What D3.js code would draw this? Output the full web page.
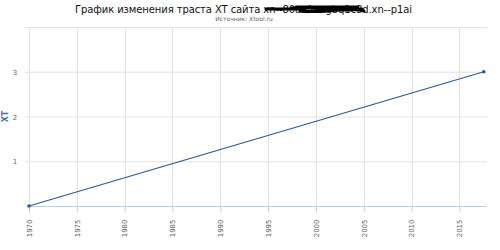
<!DOCTYPE html>
<html lang="ru">
<head>
<meta charset="utf-8">
<script src="https://cdn.jsdelivr.net/npm/d3@7"></script>
<style>
  body { margin:0; background:#fff; }
  text { font-family:"DejaVu Sans", Verdana, sans-serif; }
</style>
</head>
<body>
<svg id="chart"></svg>
<script>
// данные графика
var dates = ["1970-01-01", "2017-07-20"];
var xtValues = [0, 3];
var yTicks = [1, 2, 3];
var xTickYears = [1970, 1975, 1980, 1985, 1990, 1995, 2000, 2005, 2010, 2015];
var titleText = "График изменения траста XT сайта xn--80aafcmgbq1c8d.xn--p1ai";
var subtitleText = "Источник: Xtool.ru";

var svgwidth = 500, svgheight = 250;
var margins = {top:27, bottom:44, left:29, right:13};

var svg = d3.select('#chart')
            .attr('width', svgwidth)
            .attr('height', svgheight);

var parse = d3.timeParse("%Y-%m-%d");
var data = dates.map(function(d, i){ return {date: parse(d), xt: xtValues[i]}; });

var xScale = d3.scaleTime()
               .domain([parse("1970-01-01"), parse("2017-11-20")])
               .range([margins.left, svgwidth - margins.right]);
var yScale = d3.scaleLinear()
               .domain([0, 4])
               .range([svgheight - margins.bottom, margins.top]);

// горизонтальная сетка
svg.append('g')
   .selectAll('line')
   .data(yTicks.concat([4]))
   .enter().append('line')
   .attr('x1', margins.left - 4)
   .attr('x2', svgwidth - margins.right)
   .attr('y1', function(d){ return yScale(d) + 0.5; })
   .attr('y2', function(d){ return yScale(d) + 0.5; })
   .attr('stroke', '#e3e3e3')
   .attr('stroke-width', 1);

// вертикальная сетка
var xTickDates = xTickYears.map(function(y){ return new Date(y, 0, 1); });
svg.append('g')
   .selectAll('line')
   .data(xTickDates)
   .enter().append('line')
   .attr('x1', function(d){ return Math.round(xScale(d)) + 0.5; })
   .attr('x2', function(d){ return Math.round(xScale(d)) + 0.5; })
   .attr('y1', margins.top)
   .attr('y2', svgheight - margins.bottom)
   .attr('stroke', '#e3e3e3');

// ось X
var xAxis = d3.axisBottom(xScale)
              .tickValues(xTickDates)
              .tickFormat(d3.timeFormat("%Y"))
              .tickSize(6);
var gx = svg.append('g')
   .attr('transform', 'translate(0,' + (svgheight - margins.bottom + 0.5) + ')')
   .call(xAxis);
gx.select('.domain').attr('stroke', '#c0d0e0').attr('d', 'M' + margins.left + ',0H' + (svgwidth - margins.right));
gx.selectAll('.tick line').attr('stroke', '#c0d0e0');
gx.selectAll('.tick text')
  .attr('fill', '#666')
  .style('font-size', '7px')
  .attr('transform', 'rotate(-90)')
  .attr('text-anchor', 'end')
  .attr('x', -13)
  .attr('y', 0)
  .attr('dy', '0.32em');

// ось Y
svg.append('g')
   .selectAll('text')
   .data(yTicks)
   .enter().append('text')
   .attr('x', margins.left - 14)
   .attr('y', function(d){ return yScale(d) + 3; })
   .attr('text-anchor', 'middle')
   .attr('fill', '#666')
   .style('font-size', '7px')
   .text(function(d){ return d; });

svg.append('text')
   .attr('transform', 'translate(5,' + yScale(2) + ') rotate(-90)')
   .attr('text-anchor', 'middle')
   .attr('dy', '0.35em')
   .attr('fill', '#4d759e')
   .style('font-size', '8px')
   .style('font-weight', 'bold')
   .text('XT');

// линия
var line = d3.line()
             .x(function(d){ return xScale(d.date); })
             .y(function(d){ return yScale(d.xt); });
svg.append('path')
   .datum(data)
   .attr('d', line)
   .attr('fill', 'none')
   .attr('stroke', '#2b5c94')
   .attr('stroke-width', 1.3);

svg.selectAll('.pt')
   .data(data)
   .enter().append('circle')
   .attr('cx', function(d){ return xScale(d.date); })
   .attr('cy', function(d){ return yScale(d.xt); })
   .attr('r', 1.8)
   .attr('fill', '#2b5c94');

// заголовок
svg.append('text')
   .attr('x', 243.5)
   .attr('y', 13)
   .attr('text-anchor', 'middle')
   .attr('fill', '#111')
   .attr('textLength', 337)
   .style('font-size', '10px')
   .text(titleText);

svg.append('text')
   .attr('x', 244)
   .attr('y', 21)
   .attr('text-anchor', 'middle')
   .attr('fill', '#666')
   .style('font-size', '6px')
   .text(subtitleText);

// закраска адреса (как на исходнике)
svg.append('path')
   .attr('d', 'M266,9 L305,9 M292,8 C315,6 340,13 362,9 M300,11 C325,14 345,6 364,11 M296,7 L358,7')
   .attr('fill', 'none')
   .attr('stroke', '#000')
   .attr('stroke-width', 3)
   .attr('stroke-linecap', 'round');
</script>
</body>
</html>
